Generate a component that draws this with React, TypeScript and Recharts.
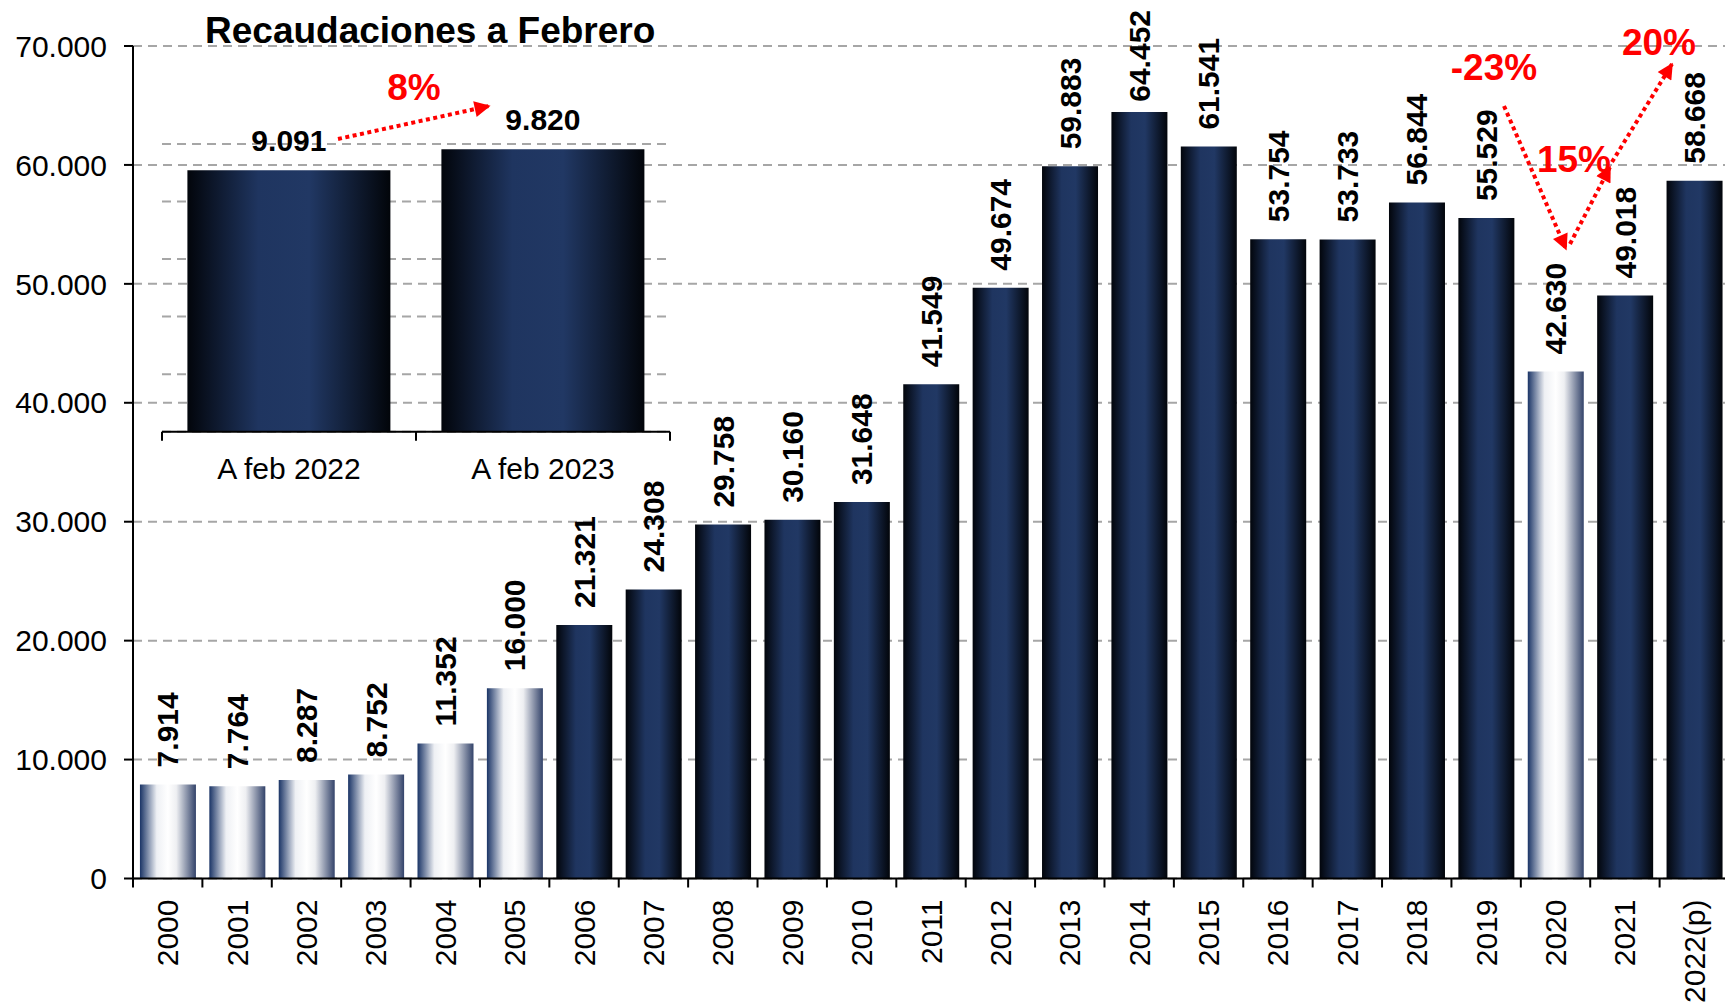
import React from 'react';
import { BarChart, Bar, XAxis, YAxis, CartesianGrid, Cell, LabelList } from 'recharts';

const years = ['2000', '2001', '2002', '2003', '2004', '2005', '2006', '2007', '2008', '2009', '2010', '2011', '2012', '2013', '2014', '2015', '2016', '2017', '2018', '2019', '2020', '2021', '2022(p)'];
const revenue = [7914, 7764, 8287, 8752, 11352, 16000, 21321, 24308, 29758, 30160, 31648, 41549, 49674, 59883, 64452, 61541, 53754, 53733, 56844, 55529, 42630, 49018, 58668];
const lightYears = ['2000', '2001', '2002', '2003', '2004', '2005', '2020'];
const yTicks = [0, 10000, 20000, 30000, 40000, 50000, 60000, 70000];

const insetCategories = ['A feb 2022', 'A feb 2023'];
const insetValues = [9091, 9820];
const insetTicks = [0, 2000, 4000, 6000, 8000, 10000];

const title = 'Recaudaciones a Febrero';
const changeLabels = ['8%', '-23%', '15%', '20%'];

const mainData = years.map((y, i) => ({ year: y, value: revenue[i] }));
const insetData = insetCategories.map((c, i) => ({ label: c, value: insetValues[i] }));

const FONT = '"Liberation Sans", Arial, Helvetica, sans-serif';
const fmt = (v: number) => (v === 0 ? '0' : String(v).replace(/\B(?=(\d{3})+(?!\d))/g, '.'));

const GradDefs = ({ prefix }: { prefix: string }) => (
  <defs>
    <linearGradient id={`${prefix}dark`} x1="0" y1="0" x2="1" y2="0">
      <stop offset="0" stopColor="#02050b" />
      <stop offset="0.35" stopColor="#1f3560" />
      <stop offset="0.6" stopColor="#213864" />
      <stop offset="1" stopColor="#02050a" />
    </linearGradient>
    <linearGradient id={`${prefix}light`} x1="0" y1="0" x2="1" y2="0">
      <stop offset="0" stopColor="#1a3466" />
      <stop offset="0.3" stopColor="#eef0f4" />
      <stop offset="0.5" stopColor="#ffffff" />
      <stop offset="0.65" stopColor="#eeeff2" />
      <stop offset="1" stopColor="#33436a" />
    </linearGradient>
  </defs>
);

const YearTick = (props: any) => {
  const { x, y, payload } = props;
  const half = payload && payload.offset > 0 ? payload.offset : 34.7;
  const ty = y + 21;
  return (
    <g>
      <line x1={x - half} x2={x - half} y1={y} y2={y + 9} stroke="#000" strokeWidth={2} />
      <text
        x={x}
        y={ty}
        transform={`rotate(-90 ${x} ${ty})`}
        textAnchor="end"
        dominantBaseline="central"
        fontSize={30}
        fontFamily={FONT}
        fill="#000"
      >
        {payload.value}
      </text>
    </g>
  );
};

const InsetTick = (props: any) => {
  const { x, y, payload, index, visibleTicksCount } = props;
  const half = payload && payload.offset > 0 ? payload.offset : 127;
  return (
    <g>
      <line x1={x - half} x2={x - half} y1={y} y2={y + 9} stroke="#000" strokeWidth={2} />
      {index === (visibleTicksCount ?? 2) - 1 && (
        <line x1={x + half} x2={x + half} y1={y} y2={y + 9} stroke="#000" strokeWidth={2} />
      )}
      <text x={x} y={y + 47} textAnchor="middle" fontSize={30} fontFamily={FONT} fill="#000">
        {payload.value}
      </text>
    </g>
  );
};

const RotLabel = (props: any) => {
  const vb = props.viewBox || {};
  const x = props.x ?? vb.x;
  const y = props.y ?? vb.y;
  const width = props.width ?? vb.width;
  const txt = fmt(Number(props.value));
  const approxLen = 30 * [...txt].reduce((s, c) => s + (c === '.' ? 0.278 : 0.556), 0);
  const cx = x + width / 2;
  const cy = Math.max(y - 17, 10 + approxLen);
  return (
    <text
      x={cx}
      y={cy}
      transform={`rotate(-90 ${cx} ${cy})`}
      textAnchor="start"
      dominantBaseline="central"
      fontSize={30}
      fontWeight="bold"
      fontFamily={FONT}
      fill="#000"
    >
      {txt}
    </text>
  );
};

const InsetLabel = (props: any) => {
  const vb = props.viewBox || {};
  const x = props.x ?? vb.x;
  const y = props.y ?? vb.y;
  const width = props.width ?? vb.width;
  return (
    <text x={x + width / 2} y={y - 19} textAnchor="middle" fontSize={30} fontWeight="bold" fontFamily={FONT} fill="#000">
      {fmt(Number(props.value))}
    </text>
  );
};

const RED = '#ff0000';

const Arrow = ({ x1, y1, x2, y2 }: { x1: number; y1: number; x2: number; y2: number }) => (
  <line x1={x1} y1={y1} x2={x2} y2={y2} stroke={RED} strokeWidth={4} strokeDasharray="4 3.5" markerEnd="url(#redArrow)" />
);

export default function App() {
  return (
    <div style={{ position: 'absolute', left: 0, top: 0, width: 1725, height: 1002, overflow: 'hidden', background: '#fff' }}>
      <div style={{ position: 'absolute', left: 0, top: 0 }}>
        <BarChart width={1729} height={1002} data={mainData} margin={{ top: 46, right: 0, bottom: 0, left: 0 }}>
          <GradDefs prefix="m" />
          <CartesianGrid vertical={false} stroke="#a6a6a6" strokeDasharray="9 6" strokeWidth={2} />
          <XAxis
            dataKey="year"
            height={123.5}
            interval={0}
            axisLine={{ stroke: '#000', strokeWidth: 2 }}
            tickLine={false}
            tickSize={0}
            tickMargin={0}
            tick={<YearTick />}
          />
          <YAxis
            width={133}
            type="number"
            domain={[0, 70000]}
            ticks={yTicks}
            allowDataOverflow
            tickFormatter={fmt}
            tick={{ fontSize: 30, fill: '#000', fontFamily: FONT }}
            axisLine={{ stroke: '#000', strokeWidth: 2 }}
            tickLine={{ stroke: '#000', strokeWidth: 2 }}
            tickSize={9}
            tickMargin={17}
          />
          <Bar dataKey="value" isAnimationActive={false}>
            {mainData.map((d) => (
              <Cell key={d.year} fill={lightYears.includes(d.year) ? 'url(#mlight)' : 'url(#mdark)'} />
            ))}
            <LabelList dataKey="value" content={RotLabel} />
          </Bar>
        </BarChart>
      </div>

      <div style={{ position: 'absolute', left: 130, top: 100 }}>
        <BarChart width={560} height={400} data={insetData} margin={{ top: 44, right: 20, bottom: 0, left: 32 }}>
          <GradDefs prefix="i" />
          <CartesianGrid vertical={false} stroke="#a6a6a6" strokeDasharray="9 6" strokeWidth={2} />
          <XAxis
            dataKey="label"
            height={68.3}
            interval={0}
            axisLine={{ stroke: '#000', strokeWidth: 2 }}
            tickLine={false}
            tickSize={0}
            tickMargin={0}
            tick={<InsetTick />}
          />
          <YAxis hide type="number" domain={[0, 10000]} ticks={insetTicks} />
          <Bar dataKey="value" fill="url(#idark)" isAnimationActive={false}>
            <LabelList dataKey="value" content={InsetLabel} />
          </Bar>
        </BarChart>
      </div>

      <svg width={1725} height={1002} style={{ position: 'absolute', left: 0, top: 0, pointerEvents: 'none' }}>
        <defs>
          <marker id="redArrow" viewBox="0 0 10 10" refX="9" refY="5" markerUnits="userSpaceOnUse" markerWidth="18" markerHeight="16" orient="auto">
            <path d="M0,0 L10,5 L0,10 z" fill={RED} />
          </marker>
        </defs>
        <text x={205} y={43} fontSize={37} fontWeight="bold" fontFamily={FONT} fill="#000">
          {title}
        </text>
        <Arrow x1={338} y1={139} x2={489} y2={106} />
        <text x={414} y={100} textAnchor="middle" fontSize={37} fontWeight="bold" fontFamily={FONT} fill={RED}>
          {changeLabels[0]}
        </text>
        <Arrow x1={1504} y1={106} x2={1566} y2={249} />
        <text x={1494} y={80} textAnchor="middle" fontSize={37} fontWeight="bold" fontFamily={FONT} fill={RED}>
          {changeLabels[1]}
        </text>
        <Arrow x1={1570} y1={244} x2={1610} y2={167} />
        <text x={1574} y={172} textAnchor="middle" fontSize={37} fontWeight="bold" fontFamily={FONT} fill={RED}>
          {changeLabels[2]}
        </text>
        <Arrow x1={1612} y1={162} x2={1672} y2={64} />
        <text x={1659} y={55} textAnchor="middle" fontSize={37} fontWeight="bold" fontFamily={FONT} fill={RED}>
          {changeLabels[3]}
        </text>
      </svg>
    </div>
  );
}
